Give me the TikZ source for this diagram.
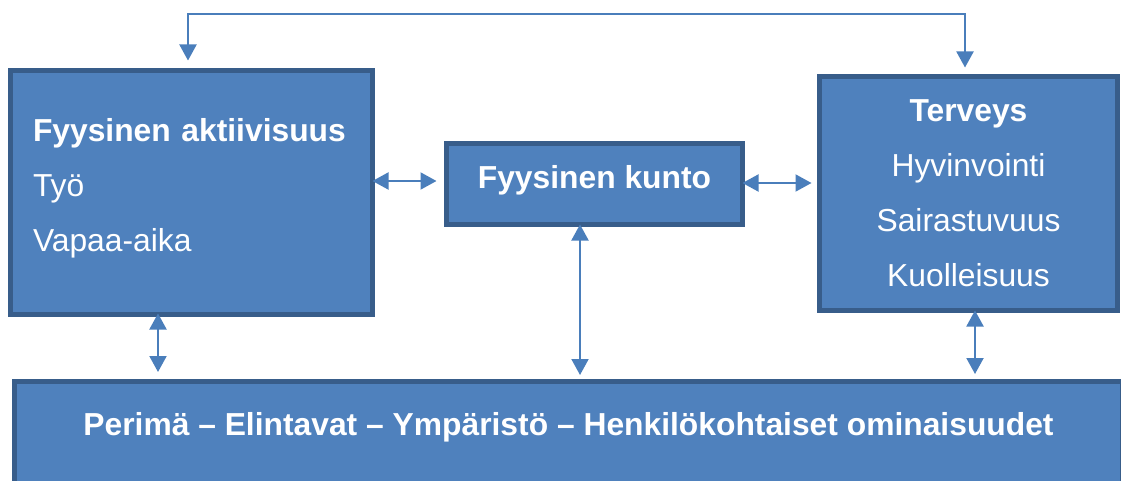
\documentclass[tikz,border=0pt]{standalone}
\usepackage{fontspec}
\setmainfont{Liberation Sans}
\usetikzlibrary{arrows.meta,calc}
\definecolor{boxfill}{HTML}{4F81BD}
\definecolor{boxline}{HTML}{385D8A}
\definecolor{arrcol}{HTML}{4A7EBB}
\tikzset{
  box/.style={draw=boxline, fill=boxfill, line width=5pt, text=white, inner sep=0pt, rectangle},
  arr/.style={draw=arrcol, line width=2pt, {Triangle[width=17pt,length=16pt]}-{Triangle[width=17pt,length=16pt]}}
}
\begin{document}
\begin{tikzpicture}[x=1pt,y=-1pt]
\useasboundingbox (0,0) rectangle (1121,481);
\clip (0,0) rectangle (1121,481);
\fontsize{31.8}{55}\selectfont
\node[box, minimum width=362pt, minimum height=244pt, text width=317pt, inner xsep=22.5pt, align=left] (left) at (191.5,192.5)
  {\textbf{Fyysinen aktiivisuus}\\Työ\\Vapaa-aika\rule[-16pt]{0pt}{1pt}};
\node[box, minimum width=296pt, minimum height=81pt, align=center] (center) at (594.5,184)
  {\textbf{Fyysinen kunto}\rule[-15pt]{0pt}{1pt}};
\node[box, minimum width=298pt, minimum height=234pt, align=center] (right) at (968.5,193.5)
  {\textbf{Terveys}\\Hyvinvointi\\Sairastuvuus\\Kuolleisuus};
\node[box, anchor=north, minimum width=1108pt, text height=54.5pt, text depth=100pt, align=center] (bottom) at (568.5,378.5)
  {\textbf{Perimä – Elintavat – Ympäristö – Henkilökohtaiset ominaisuudet}};
\coordinate (tl) at (188,14);
\coordinate (tr) at (965,14);
\draw[arr, shorten <=7.5pt, shorten >=6.5pt] (left.north -| tl) -- (tl) -- (tr) -- (right.north -| tr);
\draw[arr, shorten <=-2.5pt, shorten >=7.5pt] ([yshift=11.5pt]left.east) -- ([yshift=11.5pt]left.east -| center.west);
\draw[arr, shorten <=-2.5pt, shorten >=5.5pt] ([yshift=1pt]center.east) -- ([yshift=1pt]center.east -| right.west);
\draw[arr, shorten <=-3.5pt, shorten >=6.5pt] ([xshift=-33.5pt]left.south) -- ([xshift=-33.5pt]left.south |- bottom.north);
\draw[arr, shorten <=-2.5pt, shorten >=3.5pt] ([xshift=-14.5pt]center.south) -- ([xshift=-14.5pt]center.south |- bottom.north);
\draw[arr, shorten <=-2.5pt, shorten >=4.5pt] ([xshift=6.5pt]right.south) -- ([xshift=6.5pt]right.south |- bottom.north);
\end{tikzpicture}
\end{document}
